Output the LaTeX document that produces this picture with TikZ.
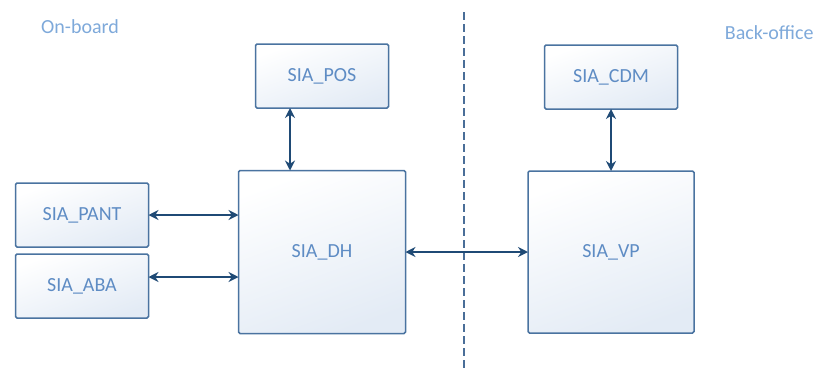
\documentclass[tikz,border=0pt]{standalone}
\usepackage{fontspec}
\setmainfont{Carlito}
\usetikzlibrary{arrows.meta, positioning}
\definecolor{SIABorder}{HTML}{4A73A0}
\definecolor{SIAFill}{HTML}{E3EBF5}
\definecolor{SIAText}{HTML}{5E8CC4}
\definecolor{SIALabel}{HTML}{7EA9DA}
\definecolor{SIALink}{HTML}{1F4A75}
\definecolor{SIADash}{HTML}{4A6E98}
\tikzset{
    % Box styles
    module/.style={
        rectangle,
        rounded corners=1.5pt,
        draw=SIABorder,
        top color=white,
        bottom color=SIAFill,
        shading angle=20,
        line width=1.5pt,
        inner sep=0pt,
        outer sep=0pt,
        align=center,
        text=SIAText,
        font=\fontsize{20}{24}\selectfont
    },
    smallmodule/.style={
        module,
        minimum width=133pt,
        minimum height=64pt
    },
    bigmodule/.style={
        module,
        minimum width=167pt,
        minimum height=163pt
    },
    zone/.style={
        text=SIALabel,
        font=\fontsize{20}{24}\selectfont
    },
    % Arrow styles
    link/.style={
        {Stealth[length=10pt,width=10pt]}-{Stealth[length=10pt,width=10pt]},
        line width=1.6pt,
        draw=SIALink
    },
    divider/.style={
        line width=1.5pt,
        draw=SIADash,
        dash pattern=on 8pt off 4pt
    }
}
\begin{document}
\begin{tikzpicture}[x=1pt, y=-1pt]
    \useasboundingbox (0,0) rectangle (819,370);

    \node[zone] (onboard) at (80,27) {On-board};
    \node[zone, anchor=east] (backoffice) at (817,33) {Back-office};

    \draw[divider] (464,12) -- (464,370);

    \node[smallmodule] (pos) at (322,76) {SIA\_POS};
    \node[bigmodule] (dh) at (322,252) {SIA\_DH};
    \node[smallmodule] (pant) at (82,215) {SIA\_PANT};
    \node[smallmodule] (aba) at (82,286) {SIA\_ABA};

    \node[smallmodule] (cdm) at (611,77) {SIA\_CDM};
    \node[bigmodule, minimum width=166pt, minimum height=162pt] (vp) at (611,252) {SIA\_VP};

    \draw[link] ([xshift=-32pt]pos.south) -- ([xshift=-32pt]pos.south |- dh.north);
    \draw[link] (pant.east) -- (pant.east -| dh.west);
    \draw[link] ([yshift=9pt]aba.east) -- ([yshift=9pt]aba.east -| dh.west);
    \draw[link] (dh.east) -- (dh.east -| vp.west);
    \draw[link] (cdm.south) -- (cdm.south |- vp.north);
\end{tikzpicture}
\end{document}
